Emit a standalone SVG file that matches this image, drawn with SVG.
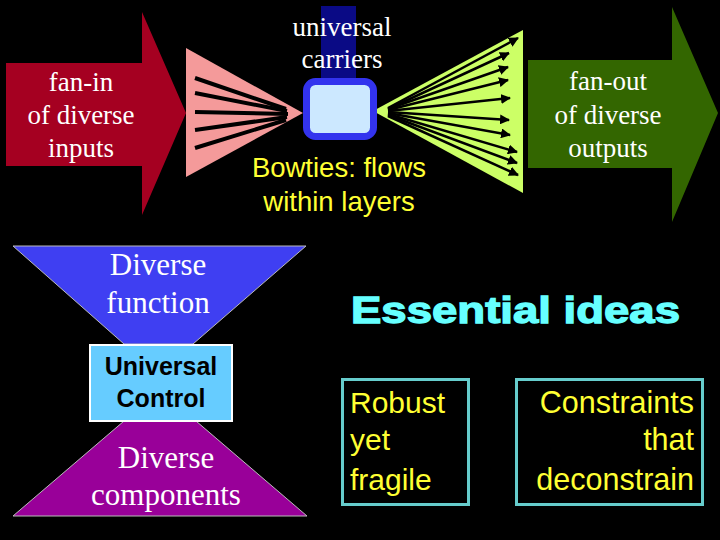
<svg xmlns="http://www.w3.org/2000/svg" width="720" height="540" viewBox="0 0 720 540">
<defs>
<marker id="ah" viewBox="0 0 10 10" refX="9" refY="5" markerWidth="4" markerHeight="4" orient="auto" markerUnits="strokeWidth">
<path d="M0,0 L10,5 L0,10 z" fill="#000"/>
</marker>
<style>
.serif{font-family:"Liberation Serif","Times New Roman",serif;fill:#fff;text-anchor:middle}
.sans{font-family:"Liberation Sans",Arial,sans-serif}
.yl{fill:#ffff33}
.fin{stroke:#000;stroke-width:4;stroke-linecap:butt}
.fout{stroke:#000;stroke-width:2.5;marker-end:url(#ah)}
.idea{fill:none;stroke:#66cccc;stroke-width:3}
</style>
</defs>
<rect width="720" height="540" fill="#000"/>

<g id="fan-in-arrow">
<polygon points="6,63 142,63 142,12 186,113 142,215 142,166 6,166" fill="#a50021"/>
<text class="serif" font-size="27" x="81" y="91">fan-in</text>
<text class="serif" font-size="27" x="81" y="124">of diverse</text>
<text class="serif" font-size="27" x="81" y="157">inputs</text>
</g>

<g id="carriers-arrow">
<rect x="321" y="6" width="35" height="72" fill="#0a0a85"/>
</g>

<g id="fan-in-bowtie">
<polygon points="186,48 303,113 186,177" fill="#f49a9a"/>
</g>

<g id="fan-out-bowtie">
<polygon points="373,111 523,30 523,193" fill="#ccff66"/>
</g>

<g id="connectors">
<line class="fin" x1="195" y1="78" x2="286" y2="109"/>
<line class="fin" x1="195" y1="93" x2="287" y2="111"/>
<line class="fin" x1="195" y1="112" x2="288" y2="114"/>
<line class="fin" x1="195" y1="130" x2="287" y2="117"/>
<line class="fin" x1="195" y1="148" x2="286" y2="120"/>
<line class="fout" x1="388" y1="108" x2="518" y2="38"/>
<line class="fout" x1="388" y1="109" x2="509" y2="53"/>
<line class="fout" x1="388" y1="109" x2="508" y2="67"/>
<line class="fout" x1="388" y1="110" x2="508" y2="80"/>
<line class="fout" x1="388" y1="111" x2="510" y2="98"/>
<line class="fout" x1="388" y1="112" x2="509" y2="120"/>
<line class="fout" x1="388" y1="113" x2="510" y2="135"/>
<line class="fout" x1="388" y1="114" x2="517" y2="152"/>
<line class="fout" x1="388" y1="115" x2="517" y2="163"/>
<line class="fout" x1="388" y1="116" x2="518" y2="175"/>
</g>

<g id="carriers-box">
<rect x="306.5" y="81.5" width="67" height="55" rx="9" fill="#cce8ff" stroke="#3333ee" stroke-width="7"/>
<text class="serif" font-size="27" x="342" y="36">universal</text>
<text class="serif" font-size="27" x="342" y="68">carriers</text>
</g>

<g id="bowtie-label">
<text class="sans yl" font-size="27.5" text-anchor="middle" x="339" y="177">Bowties: flows</text>
<text class="sans yl" font-size="27.5" text-anchor="middle" x="339" y="211">within layers</text>
</g>

<g id="fan-out-arrow">
<polygon points="528,60 672,60 672,7 718,113 672,222 672,168 528,168" fill="#336600"/>
<text class="serif" font-size="27" x="608" y="90">fan-out</text>
<text class="serif" font-size="27" x="608" y="124">of diverse</text>
<text class="serif" font-size="27" x="608" y="157">outputs</text>
</g>

<g id="diverse-function">
<polygon points="13,246 306,246 193,344 124,344" fill="#3f3ff2" stroke="#bbb" stroke-width="1"/>
<text class="serif" font-size="31" x="158" y="275">Diverse</text>
<text class="serif" font-size="31" x="158" y="313">function</text>
</g>

<g id="diverse-components">
<polygon points="124,421 196,421 307,516 13,516" fill="#990099" stroke="#bbb" stroke-width="1"/>
<text class="serif" font-size="31" x="166" y="468">Diverse</text>
<text class="serif" font-size="31" x="166" y="505">components</text>
</g>

<g id="universal-control">
<rect x="90" y="345" width="142" height="76" fill="#66ccff" stroke="#fff" stroke-width="2"/>
<text class="sans" font-size="25" font-weight="bold" fill="#000" text-anchor="middle" x="161" y="375">Universal</text>
<text class="sans" font-size="25" font-weight="bold" fill="#000" text-anchor="middle" x="161" y="407">Control</text>
</g>

<g id="essential-ideas">
<text class="sans" font-size="37" font-weight="900" fill="#66ffff" stroke="#66ffff" stroke-width="1.3" x="351" y="323" textLength="329" lengthAdjust="spacingAndGlyphs">Essential ideas</text>
</g>

<g id="robust-yet-fragile">
<rect class="idea" x="342.5" y="379.5" width="126" height="125"/>
<text class="sans yl" font-size="30" x="350" y="413">Robust</text>
<text class="sans yl" font-size="30" x="350" y="450">yet</text>
<text class="sans yl" font-size="30" x="350" y="490">fragile</text>
</g>

<g id="constraints">
<rect class="idea" x="516.5" y="379.5" width="186" height="125"/>
<text class="sans yl" font-size="30.5" text-anchor="end" x="694" y="413">Constraints</text>
<text class="sans yl" font-size="30.5" text-anchor="end" x="694" y="450">that</text>
<text class="sans yl" font-size="30.5" text-anchor="end" x="694" y="490">deconstrain</text>
</g>
</svg>
